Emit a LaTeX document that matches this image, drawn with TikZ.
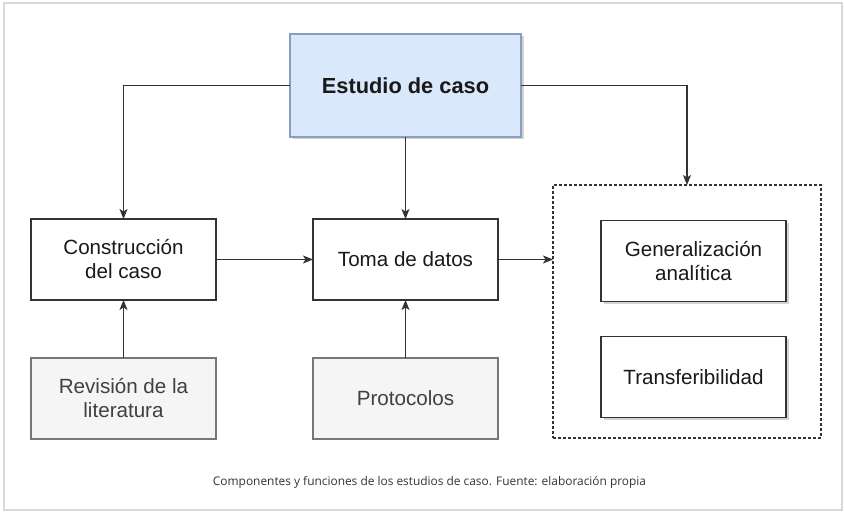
\documentclass[tikz,border=0pt]{standalone}
\usepackage{fontspec}
\setmainfont{Liberation Sans}
\newfontfamily\captionfont{Open Sans}
\usepackage{xcolor}
\usepackage{tikz}
\usetikzlibrary{arrows.meta, positioning, shadows}

\definecolor{heading}{HTML}{DAE8FC}
\definecolor{headingline}{HTML}{8A9FC0}
\definecolor{softgray}{HTML}{F5F5F5}
\definecolor{softline}{HTML}{777777}
\definecolor{linegray}{HTML}{333333}

\begin{document}
\begin{tikzpicture}[
    x=1pt, y=-1pt,
    box/.style={rectangle, draw=linegray, line width=1.3pt, fill=white, minimum width=185pt, minimum height=81pt,
        inner sep=0pt, outer sep=0pt, align=center, text=black!90, font=\fontsize{20.6}{24}\selectfont},
    soft/.style={box, draw=softline, fill=softgray, text=black!75},
    shaded/.style={drop shadow={shadow xshift=2.5pt, shadow yshift=-2.5pt, opacity=0.35}},
    arrow/.style={-{Stealth[length=10pt, width=8pt, inset=2.5pt]}, line width=1.2pt, draw=linegray},
    node distance=58pt
]
    \useasboundingbox (0,0) rectangle (844,513);
    \draw[black!15, line width=1.5pt] (4,3) rectangle (842,510);

    % Main node and the three steps
    \node[box, shaded, fill=heading, draw=headingline, minimum width=231pt, minimum height=103pt,
        font=\fontsize{21.8}{26}\selectfont\bfseries] (estudio) at (405.5,85.5) {Estudio de caso};
    \node[box, below=82pt of estudio] (toma) {Toma de datos};
    \node[box, left=97pt of toma] (construccion) {Construcción\\del caso};
    \node[soft, below=of construccion] (revision) {Revisión de la\\literatura};
    \node[soft, below=of toma] (protocolos) {Protocolos};

    % Results group
    \node[draw=linegray, line width=1.2pt, dash pattern=on 3pt off 2pt, minimum width=268pt, minimum height=253pt,
        inner sep=0pt, outer sep=0pt] (resultados) at (687,311.5) {};
    \node[box, shaded, right=103pt of toma, yshift=-1.5pt] (generalizacion) {Generalización\\analítica};
    \node[box, shaded, below=35pt of generalizacion] (transferibilidad) {Transferibilidad};

    \draw[arrow] (estudio.west) -| (construccion.north);
    \draw[arrow] (estudio.south) -- (toma.north);
    \draw[arrow] (estudio.east) -| (resultados.north);
    \draw[arrow] (construccion.east) -- (toma.west);
    \draw[arrow] (toma.east) -- (toma.east -| resultados.west);
    \draw[arrow] (revision) -- (construccion);
    \draw[arrow] (protocolos) -- (toma);

    \node[text=black!80, font=\captionfont\fontsize{11.9}{14}\selectfont] (fuente) at (429.5,482)
        {Componentes y funciones de los estudios de caso. Fuente: elaboración propia};
\end{tikzpicture}
\end{document}
